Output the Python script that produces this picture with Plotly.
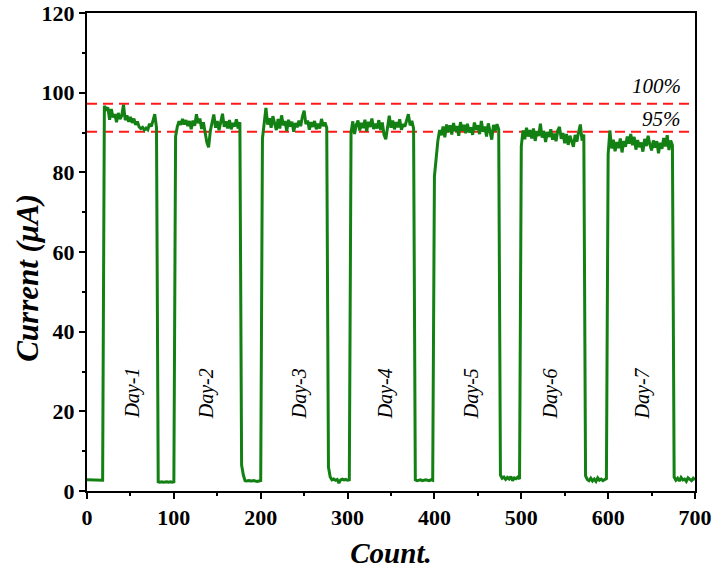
import plotly.graph_objects as go

# ---- data ----
# each segment: first count, step between samples, current values (uA)
base_a = [2.8, 2.8, 2.7, 2.8, 2.8, 2.7, 2.8, 2.8, 2.8, 2.7]
day1 = [96.7, 95.8, 96.3, 93.2, 95.9, 93.8, 94.6, 92.6, 94.9, 93.4, 94.2, 97.0, 93.1, 94.3,
        92.7, 93.9, 92.4, 93.5, 91.9, 92.8, 91.4, 91.0, 91.3, 90.6, 91.1, 90.7, 92.2, 91.5,
        93.0, 94.6, 91.2]
base_b = [2.3, 2.2, 2.3, 2.2, 2.3, 2.3, 2.2, 2.3, 2.2, 2.3]
day2 = [89.0, 91.5, 92.8, 91.9, 93.4, 92.0, 93.1, 91.6, 92.9, 90.8, 93.0, 91.7, 94.6, 92.3,
        93.5, 90.9, 92.6, 89.8, 87.5, 86.3, 90.4, 92.5, 94.5, 91.2, 92.9, 90.6, 93.2, 94.7,
        91.4, 92.8, 91.0, 93.1, 90.8, 92.4, 91.5, 93.3, 91.0, 92.6]
base_c = [6.5, 4.0, 2.6, 2.5, 2.6, 2.5, 2.5, 2.6, 2.5, 2.4, 2.5, 2.6]
day3 = [88.5, 91.8, 96.2, 92.0, 93.6, 91.2, 94.1, 92.3, 90.6, 93.4, 91.0, 94.3, 91.8, 92.9,
        90.4, 93.2, 91.5, 92.7, 90.2, 92.4, 91.3, 93.0, 91.6, 94.0, 95.5, 92.1, 93.0, 90.7,
        92.6, 91.4, 92.9, 90.8, 92.2, 91.0, 93.4, 91.6, 92.5, 91.2]
base_d = [6.0, 3.5, 2.8, 3.0, 2.7, 2.9, 2.0, 2.8, 3.0, 2.8, 2.9, 2.7, 2.8]
day4 = [90.0, 92.8, 89.6, 91.9, 93.0, 90.5, 92.4, 91.1, 93.2, 90.3, 92.7, 91.4, 93.5, 90.9,
        92.2, 91.0, 93.1, 90.6, 92.5, 89.4, 88.3, 92.0, 94.2, 91.2, 93.0, 90.8, 92.6, 91.3,
        93.3, 90.7, 92.1, 91.5, 93.0, 94.6, 91.8, 92.9, 91.0]
base_e = [2.8, 2.6, 2.7, 2.8, 2.6, 2.7, 2.8, 2.7, 2.6, 2.8, 2.7]
day5 = [79.0, 84.5, 88.0, 90.6, 89.3, 91.5, 88.8, 92.0, 90.1, 91.8, 89.5, 92.4, 90.3, 91.6,
        89.2, 92.6, 90.5, 91.9, 89.8, 92.2, 90.0, 91.3, 89.4, 92.5, 90.7, 91.8, 89.6, 92.9,
        90.2, 91.5, 89.0, 92.3, 90.6, 88.2, 91.9, 90.4, 92.1, 90.8]
base_f = [4.0, 3.2, 3.5, 2.9, 3.4, 3.0, 3.6, 2.6, 3.3, 3.1, 3.5, 3.0]
day6 = [86.5, 90.5, 88.3, 91.2, 89.0, 90.6, 88.5, 91.0, 87.9, 90.3, 89.1, 92.2, 88.7, 90.4,
        87.6, 90.1, 88.9, 90.8, 88.2, 89.7, 87.8, 90.5, 91.4, 88.4, 89.9, 87.3, 89.6, 86.9,
        89.2, 87.5, 86.4, 89.4, 87.7, 90.1, 92.0, 88.0, 89.5]
base_g = [3.8, 2.9, 2.6, 3.2, 2.5, 3.0, 2.4, 3.3, 2.7, 3.0, 2.6, 2.9, 3.1]
day7 = [84.5, 90.5, 86.0, 88.2, 85.3, 87.6, 86.1, 88.5, 85.0, 87.9, 86.4, 89.0, 87.2, 89.6,
        86.8, 88.9, 85.7, 88.1, 86.3, 87.5, 85.2, 88.4, 86.6, 89.2, 87.0, 85.5, 88.0, 86.2,
        87.8, 84.8, 87.4, 85.9, 88.6, 86.5, 89.3, 85.6, 88.0, 86.8]
base_h = [3.5, 2.7, 3.2, 2.5, 3.4, 2.8, 3.0, 2.4, 3.3, 2.9, 2.6, 3.2, 2.8]

segment_starts = [0, 20, 82, 102, 178, 202, 278, 304, 378, 400, 476, 500, 574, 600, 676]
segment_values = [base_a, day1, base_b, day2, base_c, day3, base_d, day4, base_e,
                  day5, base_f, day6, base_g, day7, base_h]
sample_step = 2

ref_levels = [97.2, 90.2]
ref_labels = ["100%", "95%"]
ref_label_y = [101.8, 93.3]

day_labels = ["Day-1", "Day-2", "Day-3", "Day-4", "Day-5", "Day-6", "Day-7"]
day_label_x = [52, 138, 245, 343, 443, 533, 639]
day_label_y = 24.5

x_ticks = [0, 100, 200, 300, 400, 500, 600, 700]
y_ticks = [0, 20, 40, 60, 80, 100, 120]

# ---- build series ----
count, current = [], []
for s, vals in zip(segment_starts, segment_values):
    for i, v in enumerate(vals):
        count.append(s + i * sample_step)
        current.append(v)

fig = go.Figure()
for lvl in ref_levels:
    fig.add_trace(go.Scatter(x=[0, 700], y=[lvl, lvl], mode="lines",
                             line=dict(color="#ff1a1a", width=2, dash="10px,6px"),
                             hoverinfo="skip", showlegend=False))
fig.add_trace(go.Scatter(x=count, y=current, mode="lines",
                         line=dict(color="#138013", width=3),
                         showlegend=False))

serif = "Liberation Serif, Times New Roman, serif"
for t, xv in zip(day_labels, day_label_x):
    fig.add_annotation(x=xv, y=day_label_y, text="<i>%s</i>" % t, showarrow=False,
                       textangle=-90, font=dict(family=serif, size=20, color="black"))
for t, yv in zip(ref_labels, ref_label_y):
    fig.add_annotation(x=686, y=yv, text="<i>%s</i>" % t, showarrow=False, xanchor="right",
                       font=dict(family=serif, size=21, color="black"))

# y-axis title
fig.add_annotation(xref="paper", yref="paper", x=-0.097, y=0.446,
                   text="<b><i>Current (μA)</i></b>", showarrow=False, textangle=-90,
                   xanchor="center", yanchor="middle",
                   font=dict(family=serif, size=31, color="black"))

axis_common = dict(showline=True, linecolor="black", linewidth=2, mirror=True,
                   ticks="outside", ticklen=6, tickwidth=2, tickcolor="black",
                   showgrid=False, zeroline=False, automargin=False,
                   ticklabeloverflow="allow",
                   tickfont=dict(family=serif, size=22, color="black", weight="bold"))
fig.update_xaxes(range=[0, 700], tickvals=x_ticks, **axis_common,
                 minor=dict(dtick=50, ticklen=3, tickwidth=2, tickcolor="black", ticks="outside"),
                 title=dict(text="<b><i>Count.</i></b>", standoff=14,
                            font=dict(family=serif, size=29, color="black")))
fig.update_yaxes(range=[0, 120], tickvals=y_ticks, **axis_common,
                 minor=dict(dtick=10, ticklen=3, tickwidth=2, tickcolor="black", ticks="outside"))

fig.update_layout(width=714, height=569, margin=dict(l=87, r=19, t=13, b=78),
                  plot_bgcolor="white", paper_bgcolor="white")
fig.write_html("out.html")
